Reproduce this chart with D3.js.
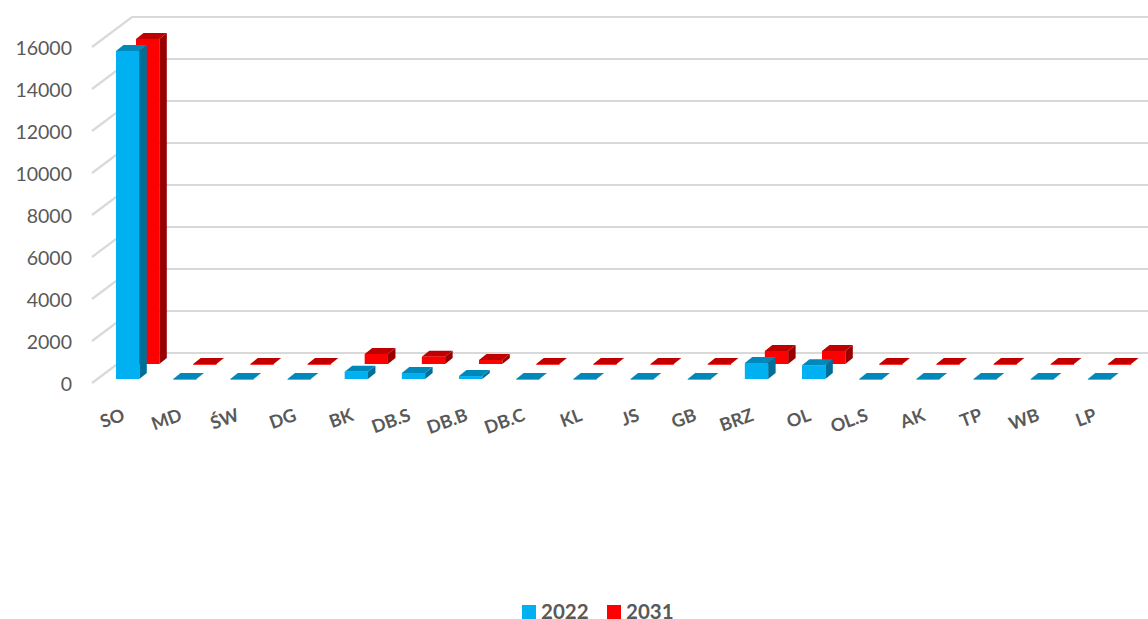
<!DOCTYPE html>
<html>
<head>
<meta charset="utf-8">
<script src="https://cdn.jsdelivr.net/npm/d3@7"></script>
<style>
  html, body { margin: 0; padding: 0; background: #fff; overflow: hidden; }
  text { font-family: Lato, sans-serif; fill: #595959; }
</style>
</head>
<body>
<div id="chart"></div>
<script>
const categories = ["SO", "MD", "ŚW", "DG", "BK", "DB.S", "DB.B", "DB.C", "KL", "JS", "GB", "BRZ", "OL", "OL.S", "AK", "TP", "WB", "LP"];
const values2022 = [15620, 0, 0, 0, 350, 285, 140, 0, 0, 0, 0, 760, 660, 0, 0, 0, 0, 0];
const values2031 = [15480, 0, 0, 0, 480, 350, 190, 0, 0, 0, 0, 620, 620, 0, 0, 0, 0, 0];
const yTicks = [0, 2000, 4000, 6000, 8000, 10000, 12000, 14000, 16000];

const width = 1148, height = 619;
const wallX = 92, depthX = 40, depthY = 30;      // side wall of the 3d box
const barDepthX = 7.5, barDepthY = 6;

let svg = d3.select("#chart")
    .append("svg")
    .attr("width", width)
    .attr("height", height);

let y = d3.scaleLinear().domain([0, 16000]).range([383, 47]);

let x = d3.scaleBand()
    .domain(categories)
    .range([89, 1118])
    .paddingInner(0)
    .paddingOuter(0);

// Gridlines, side wall + back wall
let grid = svg.append("g")
    .attr("fill", "none")
    .attr("stroke", "#d9d9d9")
    .attr("stroke-width", 2.2);

yTicks.forEach(function(t) {
    grid.append("path")
        .attr("d", d3.line()([[wallX, y(t)], [wallX + depthX, y(t) - depthY], [width, y(t) - depthY]]));
});

// Y axis labels
let yAxis = svg.append("g")
    .attr("transform", "translate(78,1)")
    .call(d3.axisLeft(y).tickValues(yTicks).tickSize(0).tickPadding(6).tickFormat(d3.format("d")));
yAxis.select(".domain").remove();
yAxis.selectAll("text").style("font-size", "19.5px").style("fill", "#595959").style("font-family", "Lato, sans-serif");

function drawSeries(values, baseY, shiftX, cols) {
    let g = svg.append("g");
    let barW = 23.3;
    categories.forEach(function(c, i) {
        let h = y(0) - y(values[i]);
        let x0 = x(c) + shiftX, x1 = x0 + barW;
        let top = baseY - h;
        g.append("path").attr("fill", cols.side)
            .attr("d", d3.line()([[x1, baseY], [x1 + barDepthX, baseY - barDepthY], [x1 + barDepthX, top - barDepthY], [x1, top]]));
        g.append("path").attr("fill", cols.top)
            .attr("d", d3.line()([[x0, top], [x1, top], [x1 + barDepthX, top - barDepthY], [x0 + barDepthX, top - barDepthY]]));
        g.append("rect").attr("fill", cols.front)
            .attr("x", x0).attr("y", top).attr("width", barW).attr("height", Math.max(h, 0.8));
    });
}

// red row sits behind the blue row
drawSeries(values2031, 364, 47, {front: "#ff0000", top: "#c00000", side: "#990000"});
drawSeries(values2022, 379, 27, {front: "#00b0f0", top: "#0088ba", side: "#006f98"});

// Category labels
svg.append("g").selectAll("text")
    .data(categories)
    .enter()
    .append("text")
    .attr("transform", function(d) { return `translate(${x(d) + 37},${420}) rotate(-20)`; })
    .style("text-anchor", "end")
    .style("font-size", "18px")
    .style("font-weight", "bold")
    .text(function(d) { return d; });

// Legend
const legendItems = [["2022", "#00b0f0", 522], ["2031", "#ff0000", 607]];
legendItems.forEach(function(d) {
    svg.append("rect").attr("x", d[2]).attr("y", 605).attr("width", 14).attr("height", 14).attr("fill", d[1]);
    svg.append("text").attr("x", d[2] + 19).attr("y", 618.5)
        .style("font-size", "20.5px").style("font-weight", "bold").text(d[0]);
});
</script>
</body>
</html>
